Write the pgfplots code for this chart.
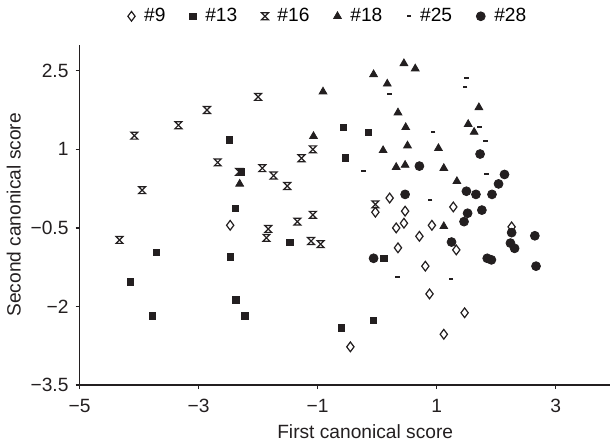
\documentclass[border=0pt]{standalone}
\usepackage{fontspec}
\setmainfont{Liberation Sans}
\usepackage{pgfplots}
\pgfplotsset{compat=1.18}

\definecolor{ink}{HTML}{231F20}

% x with a bar on top and bottom (hourglass outline)
\pgfdeclareplotmark{hglass}{%
  \pgfpathmoveto{\pgfqpoint{-\pgfplotmarksize}{\pgfplotmarksize}}%
  \pgfpathlineto{\pgfqpoint{\pgfplotmarksize}{\pgfplotmarksize}}%
  \pgfpathlineto{\pgfqpoint{-\pgfplotmarksize}{-\pgfplotmarksize}}%
  \pgfpathlineto{\pgfqpoint{\pgfplotmarksize}{-\pgfplotmarksize}}%
  \pgfpathclose
  \pgfusepathqstroke
}

\begin{document}
\begin{tikzpicture}
\begin{axis}[
    scale only axis,
    width=263pt,
    height=168.75pt,
    xmin=-5, xmax=3.92,
    ymin=-3.5, ymax=3,
    axis x line=bottom,
    axis y line=left,
    axis line style={-, ink, line width=0.6pt},
    xtick={-5,-3,-1,1,3},
    xticklabels={−5,−3,−1,1,3},
    ytick={-3.5,-2,-0.5,1,2.5},
    yticklabels={−3.5,−2,−0.5,1,2.5},
    tick align=outside,
    major tick length=2pt,
    tick style={ink, line width=0.6pt},
    ticklabel style={font=\fontsize{9.5}{11}\selectfont, text=ink},
    xticklabel style={yshift=-1.5pt},
    xlabel={First canonical score},
    ylabel={Second canonical score},
    label style={font=\fontsize{9.5}{11}\selectfont, text=ink},
    xlabel style={at={(ticklabel cs:0.538)}, anchor=near ticklabel, yshift=1pt},
    ylabel style={yshift=-2pt},
    legend columns=6,
    legend style={draw=none, fill=none, font=\fontsize{9.5}{11}\selectfont,
        at={(axis description cs:0.47,1.083)}, anchor=center,
        /tikz/every odd column/.append style={column sep=2.5pt},
        /tikz/every even column/.append style={column sep=10pt}},
    legend cell align=left,
    clip=false,
]
\addplot[only marks, mark=diamond, mark size=2.4pt, mark options={draw=ink, fill=white, line width=0.6pt}] coordinates {
(-2.47,-0.45) (0.21,0.07) (-0.03,-0.20) (0.47,-0.18) (1.28,-0.10) (0.45,-0.41)
(0.32,-0.50) (0.92,-0.45) (2.26,-0.48) (0.71,-0.66) (0.35,-0.88) (1.33,-0.92)
(0.81,-1.23) (0.88,-1.76) (1.47,-2.12) (1.12,-2.53) (-0.45,-2.77)
};
\addlegendentry{\#9}
\addplot[only marks, mark=square*, mark size=1.6pt, mark options={draw=ink, fill=ink}] coordinates {
(-2.48,1.18) (-2.28,0.57) (-2.38,-0.13) (-3.71,-0.97) (-2.47,-1.05) (-4.15,-1.53)
(-2.37,-1.87) (-3.78,-2.18) (-2.22,-2.18) (-0.57,1.42) (-0.15,1.32) (-0.53,0.84)
(-1.47,-0.78) (0.11,-1.08) (-0.06,-2.27) (-0.60,-2.41)
};
\addlegendentry{\#13}
\addplot[only marks, mark=hglass, mark size=1.7pt, mark options={draw=ink, line width=0.6pt}] coordinates {
(-2.00,2.00) (-2.86,1.75) (-3.34,1.46) (-4.08,1.26) (-2.68,0.75) (-2.32,0.57)
(-1.93,0.64) (-1.74,0.50) (-3.95,0.22) (-1.83,-0.52) (-1.86,-0.69) (-4.33,-0.73)
(-1.08,1.00) (-1.27,0.83) (-1.51,0.30) (-0.03,-0.05) (-1.08,-0.25) (-1.34,-0.38)
(-1.11,-0.75) (-0.95,-0.81)
};
\addlegendentry{\#16}
\addplot[only marks, mark=triangle*, mark size=2.2pt, mark options={draw=ink, fill=ink}] coordinates {
(-2.31,0.34) (-0.91,2.10) (-0.06,2.43) (0.45,2.64) (0.64,2.54) (0.17,2.25)
(0.35,1.70) (0.48,1.42) (-1.07,1.25) (0.10,0.98) (0.51,1.07) (1.03,1.02)
(1.71,1.80) (1.53,1.48) (1.63,1.33) (0.32,0.66) (0.47,0.70) (1.12,0.64)
(1.34,0.39) (1.12,-0.47)
};
\addlegendentry{\#18}
\addplot[only marks, mark=-, mark size=1.1pt, mark options={draw=ink, line width=1pt}] coordinates {
(0.21,2.05) (1.50,2.36) (1.48,2.19) (0.94,1.33) (1.72,1.42) (1.82,1.16)
(-0.23,0.59) (0.89,0.03) (1.84,0.52) (1.22,-0.71) (1.24,-1.48) (0.34,-1.44)
};
\addlegendentry{\#25}
\addplot[only marks, mark=*, mark size=2.2pt, mark options={draw=ink, fill=ink}] coordinates {
(0.71,0.68) (0.47,0.14) (1.73,0.91) (2.14,0.52) (2.04,0.34) (1.50,0.20)
(1.66,0.14) (1.93,0.14) (1.52,-0.22) (1.76,-0.16) (1.46,-0.38) (2.26,-0.59)
(1.25,-0.77) (2.24,-0.79) (2.31,-0.89) (2.65,-0.65) (-0.06,-1.08) (1.85,-1.08)
(1.92,-1.11) (2.67,-1.23)
};
\addlegendentry{\#28}
\end{axis}
\end{tikzpicture}
\end{document}
